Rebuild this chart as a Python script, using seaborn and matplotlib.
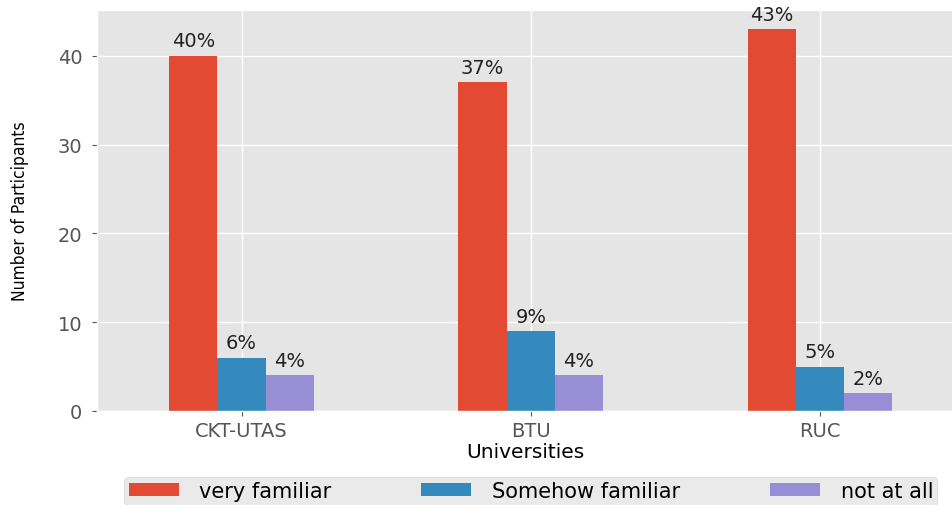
import matplotlib
matplotlib.use("Agg")
import matplotlib.pyplot as plt
import seaborn as sns
import pandas as pd

universities = ["CKT-UTAS", "BTU", "RUC"]
levels = ["very familiar", "Somehow familiar", "not at all"]
very_familiar = [40, 37, 43]
somehow_familiar = [6, 9, 5]
not_at_all = [4, 4, 2]
colors = ["#E24A33", "#348ABD", "#988ED5"]

rows = []
for i, u in enumerate(universities):
    for lvl, vals in zip(levels, [very_familiar, somehow_familiar, not_at_all]):
        rows.append({"University": u, "Level": lvl, "Count": vals[i]})
df = pd.DataFrame(rows)

plt.style.use("ggplot")
fig = plt.figure(figsize=(9.53, 5.06), dpi=100)
ax = fig.add_axes([97/953, 1 - 412/506, (953 - 97)/953, (412 - 11)/506])

sns.barplot(data=df, x="University", y="Count", hue="Level", order=universities,
            hue_order=levels, palette=colors, width=0.5, gap=0, saturation=1,
            ax=ax, legend=True, errorbar=None)

for cont in ax.containers:
    labels = [f"{int(round(b.get_height()))}%" for b in cont]
    ax.bar_label(cont, labels=labels, padding=4, fontsize=14, color="#222222")

ax.set_xlim(-0.5, 2.46)
ax.set_ylim(0, 45.15)
ax.set_yticks([0, 10, 20, 30, 40])
ax.tick_params(axis="x", labelsize=14, colors="#555555", labelcolor="#555555")
ax.tick_params(axis="y", labelsize=14, colors="#555555", labelcolor="#555555", pad=7)
ax.set_xlabel("Universities", fontsize=14.5, color="black", labelpad=2)
ax.set_ylabel("Number of Participants", fontsize=12.5, color="black",
              fontstretch="condensed")
ax.yaxis.set_label_coords(-0.08, 0.5)
ax.grid(True, color="white", linewidth=1)

handles, lbls = ax.get_legend_handles_labels()
ax.get_legend().remove()
fig.legend(handles, lbls, loc="center", bbox_to_anchor=(531/953, 1 - 492/506),
           ncol=3, fontsize=15, frameon=True, facecolor="#E5E5E5",
           edgecolor="#CCCCCC", handlelength=2.4, handleheight=0.6,
           handletextpad=1.0, columnspacing=4.3, borderpad=0.2)

fig.savefig("out.png", dpi=100)
